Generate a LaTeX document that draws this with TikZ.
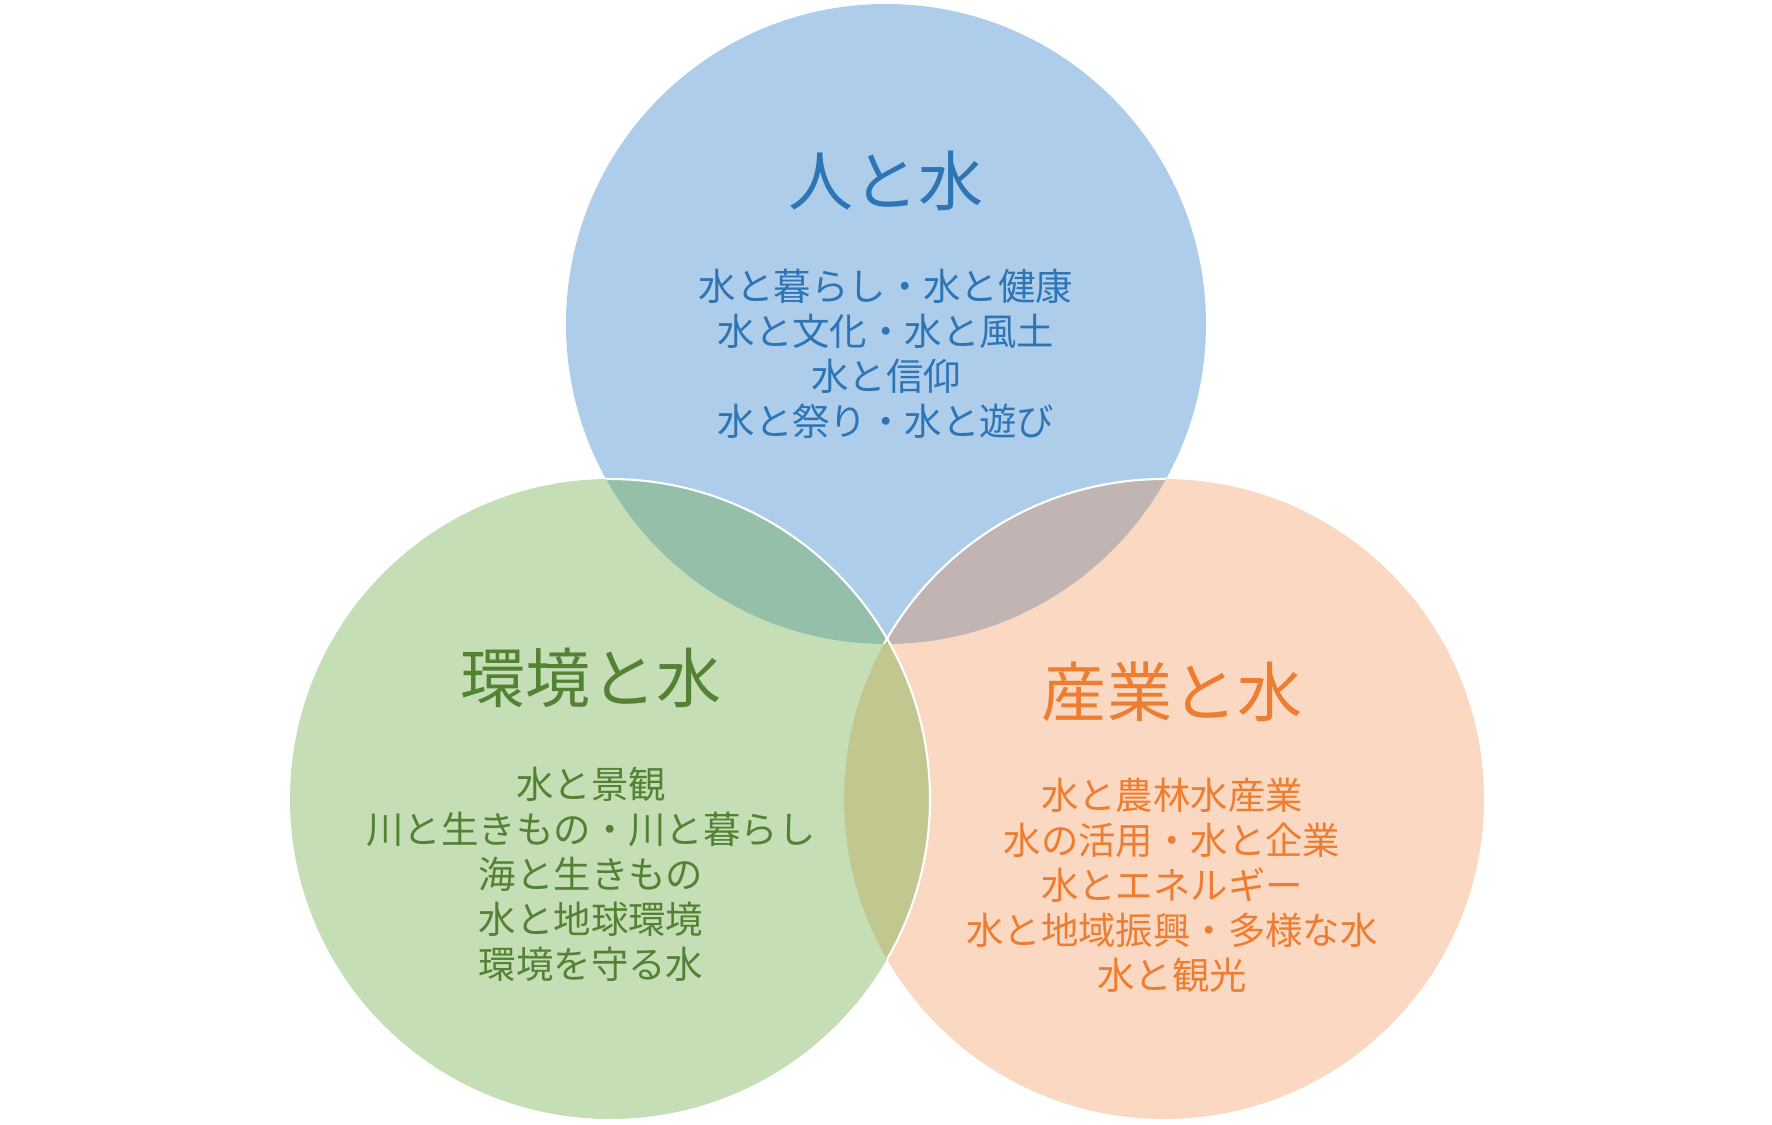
\documentclass[tikz,border=0pt]{standalone}
\usepackage{fontspec}
\newfontfamily\jpfont{Noto Sans CJK JP}
\usetikzlibrary{positioning}

\definecolor{hitofill}{RGB}{91,155,213}
\definecolor{kankyofill}{RGB}{112,173,71}
\definecolor{sangyofill}{RGB}{237,125,49}
\definecolor{hitotext}{RGB}{46,117,182}
\definecolor{kankyotext}{RGB}{84,130,53}
\definecolor{sangyotext}{RGB}{237,125,49}

\begin{document}
\begin{tikzpicture}[
    % one unit = one pixel of the 1772 x 1125 sheet, y downwards
    x=0.02cm,
    y=-0.02cm,
    heading/.style={font=\jpfont\fontsize{37pt}{44pt}\selectfont},
    items/.style={align=center, font=\jpfont\fontsize{21.3pt}{25.6pt}\selectfont},
    rim/.style={white, line width=1.2pt}
]
    \useasboundingbox (0,0) rectangle (1772,1125);

    % --- Circle centres ---
    \coordinate (hito) at (886,324);
    \coordinate (kankyo) at (610,799);
    \coordinate (sangyo) at (1164,799);

    % --- Fills (drawing order gives the overlaps) ---
    \fill[hitofill, fill opacity=0.5] (hito) circle[radius=320];
    \fill[sangyofill, fill opacity=0.3] (sangyo) circle[radius=320];
    \fill[kankyofill, fill opacity=0.4] (kankyo) circle[radius=320];

    % --- White rims, only where a circle lies over another ---
    \begin{scope}
        \clip (hito) circle[radius=320];
        \draw[rim] (sangyo) circle[radius=320];
        \draw[rim] (kankyo) circle[radius=320];
    \end{scope}
    \begin{scope}
        \clip (sangyo) circle[radius=320];
        \draw[rim] (kankyo) circle[radius=320];
    \end{scope}

    % --- Top circle ---
    \node[heading, text=hitotext] (hitotitle) at (886,181) {人と水};
    \node[items, text=hitotext] (hitoitems) at (886,354)
        {水と暮らし・水と健康\\水と文化・水と風土\\水と信仰\\水と祭り・水と遊び};

    % --- Left circle ---
    \node[heading, text=kankyotext] (kankyotitle) at (591,678) {環境と水};
    \node[items, text=kankyotext] (kankyoitems) at (591,874)
        {水と景観\\川と生きもの・川と暮らし\\海と生きもの\\水と地球環境\\環境を守る水};

    % --- Right circle ---
    \node[heading, text=sangyotext] (sangyotitle) at (1172,692) {産業と水};
    \node[items, text=sangyotext] (sangyoitems) at (1172,885)
        {水と農林水産業\\水の活用・水と企業\\水とエネルギー\\水と地域振興・多様な水\\水と観光};

\end{tikzpicture}
\end{document}
